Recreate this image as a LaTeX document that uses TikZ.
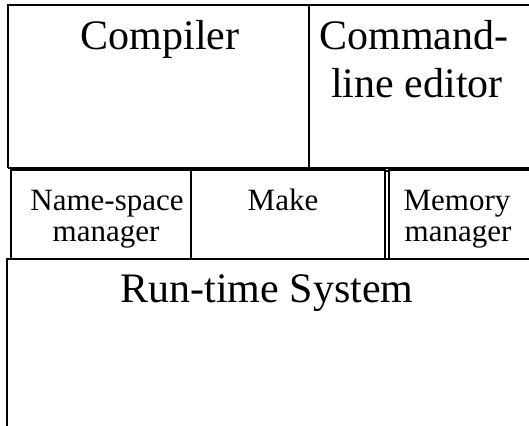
\documentclass[tikz,border=0pt]{standalone}
\usepackage{fontspec}
\setmainfont{Liberation Serif}
\begin{document}
\begin{tikzpicture}[x=1pt,y=-1pt,
  frame/.style={draw=black,line width=1.3pt},
  bigtxt/.style={anchor=base,inner sep=0pt,font=\fontsize{42}{48}\selectfont},
  smalltxt/.style={anchor=base,inner sep=0pt,font=\fontsize{31}{31}\selectfont}]
\useasboundingbox (0,0) rectangle (529,425);
\clip (0,0) rectangle (529,425);
% top row
\draw[frame] (8,168) -- (8,5) -- (545,5);
\draw[frame] (8,168) -- (545,168);
\draw[frame] (309,5) -- (309,168);
% middle row
\draw[frame] (11,170) rectangle (191,259);
\draw[frame] (191,170) rectangle (385,259);
\draw[frame] (389,170) rectangle (545,259);
\draw[frame] (385,171) -- (389,171);
% bottom
\draw[frame] (7,440) -- (7,259) -- (545,259);
% texts
\node[bigtxt] (compiler) at (160,50) {Compiler};
\node[bigtxt] (cmd1) at (414,50) {Command-};
\node[bigtxt] (cmd2) at (417,98) {line editor};
\node[smalltxt] (ns1) at (107,210) {Name-space};
\node[smalltxt] (ns2) at (106,241) {manager};
\node[smalltxt] (make) at (283,210) {Make};
\node[smalltxt] (mm1) at (457,210) {Memory};
\node[smalltxt] (mm2) at (458,241) {manager};
\node[bigtxt] (rts) at (267,302) {Run-time System};
\end{tikzpicture}
\end{document}
